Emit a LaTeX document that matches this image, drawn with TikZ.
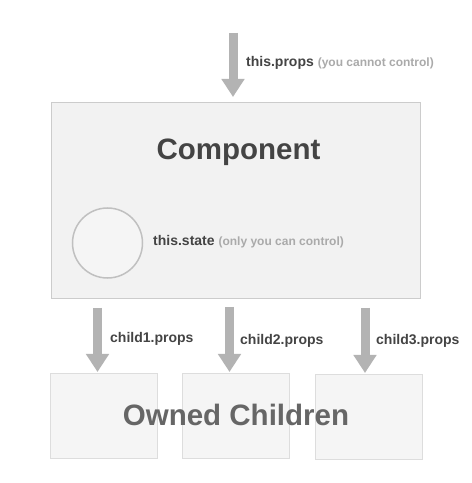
\documentclass[tikz,border=0pt]{standalone}
\usepackage{fontspec}
\setmainfont{Liberation Sans}
\usetikzlibrary{arrows.meta}
\definecolor{boxfill}{HTML}{F2F2F2}
\definecolor{boxline}{HTML}{CCCCCC}
\definecolor{childfill}{HTML}{F5F5F5}
\definecolor{childline}{HTML}{DDDDDD}
\definecolor{arrowgray}{HTML}{B3B3B3}
\definecolor{labeldark}{HTML}{444444}
\definecolor{labellight}{HTML}{AAAAAA}
\definecolor{ownedgray}{HTML}{666666}
\definecolor{circline}{HTML}{C0C0C0}
\tikzset{
  mainbox/.style={draw=boxline, fill=boxfill, line width=1pt, minimum width=369pt, minimum height=196pt, inner sep=0pt},
  childbox/.style={draw=childline, fill=childfill, line width=1pt, minimum width=107pt, minimum height=85pt, inner sep=0pt},
  statecircle/.style={circle, draw=circline, fill=childfill, line width=1.5pt, minimum size=70pt, inner sep=0pt},
  bigarrow/.style={draw=arrowgray, line width=9pt, -{Triangle[width=22pt,length=18pt]}},
  lbl/.style={anchor=base west, inner sep=0pt, font=\bfseries\fontsize{14}{16}\selectfont, text=labeldark},
  title/.style={anchor=base, inner sep=0pt, font=\bfseries\fontsize{29.5}{34}\selectfont},
}
\newcommand{\paren}[1]{{\fontsize{12}{14}\selectfont\color{labellight}#1}}
\begin{document}
\begin{tikzpicture}[x=1pt,y=1pt]
\useasboundingbox (0,0) rectangle (472,483);
\fill[white] (0,0) rectangle (472,483);
% main component
\node[mainbox] (comp) at (235.5,282) {};
\node[title, text=labeldark] (comptitle) at (238.5,323) {Component};
\node[statecircle] (state) at (107.5,240) {};
\node[lbl] (statelbl) at (153,237) {this.state \paren{(only you can control)}};
% children
\node[childbox] (c1) at (103.5,66.5) {};
\node[childbox] (c2) at (236,66.5) {};
\node[childbox] (c3) at (368.5,65.5) {};
\node[title, text=ownedgray] (owned) at (236,57.5) {Owned Children};
% top arrow
\coordinate (topstart) at (233,450);
\coordinate (topend) at (233,386);
\draw[bigarrow] (topstart) -- (topend);
\node[lbl] (propslbl) at (246,416.5) {this.props \paren{(you cannot control)}};
% child arrows
\coordinate (a1s) at (97.5,175);
\coordinate (a1e) at (97.5,111);
\coordinate (a2s) at (229.5,176);
\coordinate (a2e) at (229.5,111);
\coordinate (a3s) at (365,175);
\coordinate (a3e) at (365,110);
\draw[bigarrow] (a1s) -- (a1e);
\draw[bigarrow] (a2s) -- (a2e);
\draw[bigarrow] (a3s) -- (a3e);
\node[lbl] (l1) at (110,140) {child1.props};
\node[lbl] (l2) at (240,138) {child2.props};
\node[lbl] (l3) at (376,138) {child3.props};
\end{tikzpicture}
\end{document}
